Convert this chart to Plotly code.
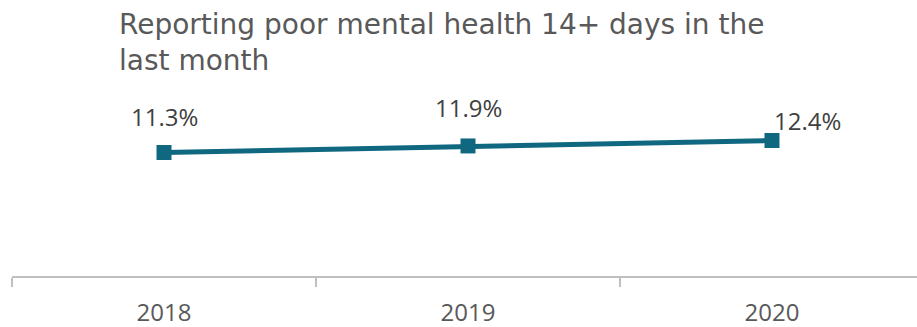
import plotly.graph_objects as go

categories = ["2018", "2019", "2020"]
values = [11.3, 11.9, 12.4]
labels = ["11.3%", "11.9%", "12.4%"]
title_text = "Reporting poor mental health 14+ days in the<br>last month"

LINE = "#0f687f"

fig = go.Figure()
fig.add_trace(go.Scatter(
    x=categories, y=values, mode="lines+markers",
    line=dict(color=LINE, width=5),
    marker=dict(symbol="square", size=15, color=LINE),
    hoverinfo="skip", showlegend=False,
))

label_xshift = [0, 0, 36]
label_yshift = [36, 38, 20]
for i, (v, t, xs, ys) in enumerate(zip(values, labels, label_xshift, label_yshift)):
    fig.add_annotation(x=i, y=v, xref="x", yref="y", text=t, showarrow=False,
                       yshift=ys, xshift=xs,
                       font=dict(family="Open Sans", size=24, color="#404040"))

fig.add_annotation(xref="paper", yref="paper", x=(117 - 12) / 905,
                   y=1 + (123 - 6) / 153, xanchor="left", yanchor="top",
                   text=title_text, showarrow=False, align="left",
                   font=dict(family="DejaVu Sans", size=28, color="#595959"))

fig.update_layout(
    width=917, height=327,
    margin=dict(l=12, r=0, t=123, b=51),
    paper_bgcolor="white", plot_bgcolor="white",
    xaxis=dict(type="category", range=[-0.5, 2.477], tickson="boundaries",
               ticks="outside", ticklen=9, tickcolor="#c0c0c0", tickwidth=1.5,
               showline=True, linecolor="#c0c0c0", linewidth=1.5,
               showgrid=False, zeroline=False, fixedrange=True,
               tickfont=dict(family="Open Sans", size=24, color="#595959"),
               ticklabelstandoff=14),
    yaxis=dict(range=[0, 14], visible=False, showgrid=False, zeroline=False, fixedrange=True),
)

fig.write_html("out.html", config={"displayModeBar": False},
               post_script="document.body.style.margin='0';document.body.style.overflow='hidden';")
